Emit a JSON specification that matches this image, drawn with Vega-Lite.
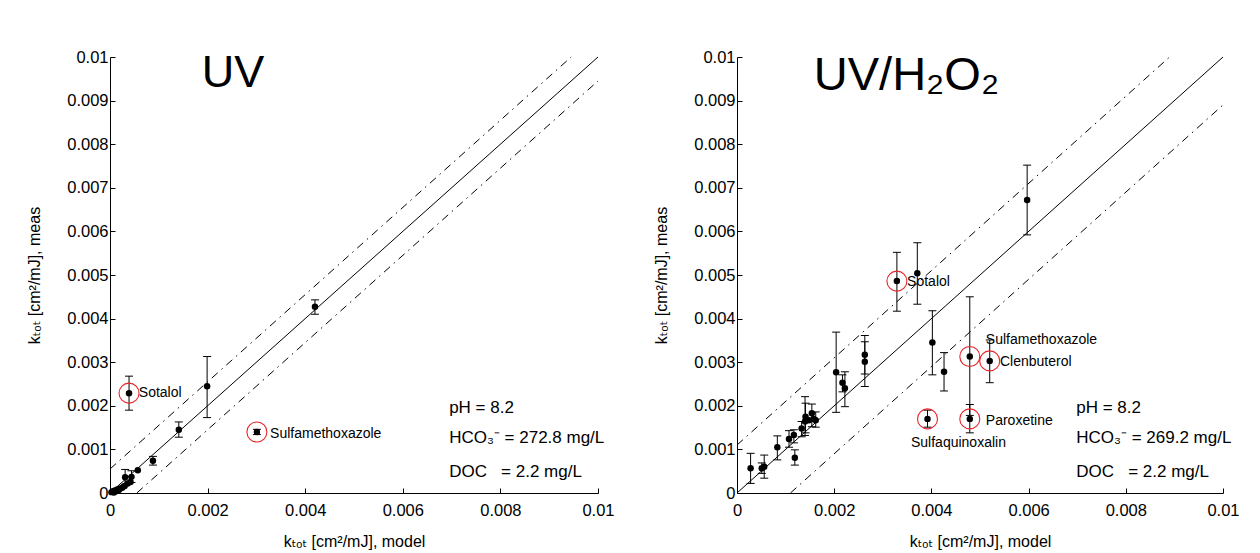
{
  "$schema": "https://vega.github.io/schema/vega-lite/v6.json",
  "padding": {"left": 26, "top": 49, "right": 5, "bottom": 5},
  "background": "white",
  "config": {
    "view": {"stroke": null},
    "font": "Liberation Sans",
    "axis": {
      "grid": false,
      "domainColor": "#000",
      "domainWidth": 1,
      "tickColor": "#000",
      "tickSize": -5,
      "labelFontSize": 16.5,
      "labelColor": "#000",
      "labelFont": "Liberation Sans",
      "titleFont": "Liberation Sans, DejaVu Sans",
      "titleFontSize": 16,
      "titleFontWeight": "normal",
      "titleColor": "#000",
      "labelFlush": false,
      "labelOverlap": false
    },
    "axisX": {"labelPadding": 14, "titlePadding": 15},
    "axisY": {"labelPadding": 7, "titlePadding": 24}
  },
  "datasets": {
    "uv": [
      {"x": 0.00039, "y": 0.00229, "lo": 0.0019, "hi": 0.00268, "hl": true},
      {"x": 0.00199, "y": 0.00245, "lo": 0.00173, "hi": 0.00313, "hl": false},
      {"x": 0.00141, "y": 0.00145, "lo": 0.00128, "hi": 0.00163, "hl": false},
      {"x": 0.00301, "y": 0.0014, "lo": 0.00134, "hi": 0.00146, "hl": true},
      {"x": 0.0042, "y": 0.00427, "lo": 0.0041, "hi": 0.00443, "hl": false},
      {"x": 0.00088, "y": 0.00074, "lo": 0.00064, "hi": 0.00084, "hl": false},
      {"x": 0.00057, "y": 0.00052, "lo": null, "hi": null, "hl": false},
      {"x": 0.00044, "y": 0.00037, "lo": 0.00024, "hi": 0.00051, "hl": false},
      {"x": 0.00031, "y": 0.00036, "lo": 0.0002, "hi": 0.00054, "hl": false},
      {"x": 0.00042, "y": 0.00025, "lo": null, "hi": null, "hl": false},
      {"x": 0.00036, "y": 0.00022, "lo": null, "hi": null, "hl": false},
      {"x": 0.0003, "y": 0.00016, "lo": null, "hi": null, "hl": false},
      {"x": 0.00025, "y": 0.00012, "lo": null, "hi": null, "hl": false},
      {"x": 0.0002, "y": 0.0001, "lo": null, "hi": null, "hl": false},
      {"x": 0.00015, "y": 0.00008, "lo": null, "hi": null, "hl": false},
      {"x": 0.0001, "y": 0.00006, "lo": null, "hi": null, "hl": false},
      {"x": 0.00006, "y": 0.00004, "lo": null, "hi": null, "hl": false},
      {"x": 0.00003, "y": 0.00002, "lo": null, "hi": null, "hl": false},
      {"x": 0.00012, "y": 0.00004, "lo": null, "hi": null, "hl": false},
      {"x": 0.00008, "y": 0.00001, "lo": null, "hi": null, "hl": false},
      {"x": 0.00018, "y": 0.00007, "lo": null, "hi": null, "hl": false}
    ],
    "h2": [
      {"x": 0.00028, "y": 0.00057, "lo": 0.00022, "hi": 0.00091, "hl": false},
      {"x": 0.00051, "y": 0.00057, "lo": 0.00045, "hi": 0.00069, "hl": false},
      {"x": 0.00056, "y": 0.0006, "lo": 0.00034, "hi": 0.00087, "hl": false},
      {"x": 0.00083, "y": 0.00105, "lo": 0.00076, "hi": 0.00131, "hl": false},
      {"x": 0.00107, "y": 0.00124, "lo": 0.00105, "hi": 0.00143, "hl": false},
      {"x": 0.00117, "y": 0.00133, "lo": 0.00115, "hi": 0.00145, "hl": false},
      {"x": 0.00119, "y": 0.00081, "lo": 0.00064, "hi": 0.00099, "hl": false},
      {"x": 0.00133, "y": 0.00148, "lo": 0.00129, "hi": 0.00164, "hl": false},
      {"x": 0.0014, "y": 0.00164, "lo": 0.00132, "hi": 0.00221, "hl": false},
      {"x": 0.00141, "y": 0.00175, "lo": 0.00138, "hi": 0.00206, "hl": false},
      {"x": 0.00148, "y": 0.00167, "lo": null, "hi": null, "hl": false},
      {"x": 0.00154, "y": 0.00183, "lo": 0.00152, "hi": 0.00204, "hl": false},
      {"x": 0.00158, "y": 0.0017, "lo": null, "hi": null, "hl": false},
      {"x": 0.00162, "y": 0.00167, "lo": 0.00151, "hi": 0.00186, "hl": false},
      {"x": 0.00204, "y": 0.00277, "lo": 0.00185, "hi": 0.00369, "hl": false},
      {"x": 0.00217, "y": 0.00253, "lo": 0.00232, "hi": 0.00271, "hl": false},
      {"x": 0.00222, "y": 0.0024, "lo": 0.00198, "hi": 0.00278, "hl": false},
      {"x": 0.00263, "y": 0.00317, "lo": 0.00273, "hi": 0.00361, "hl": false},
      {"x": 0.00263, "y": 0.00301, "lo": 0.00244, "hi": 0.00347, "hl": false},
      {"x": 0.00329, "y": 0.00486, "lo": 0.00417, "hi": 0.00552, "hl": true},
      {"x": 0.00371, "y": 0.00504, "lo": 0.00433, "hi": 0.00574, "hl": false},
      {"x": 0.00402, "y": 0.00345, "lo": 0.00271, "hi": 0.00418, "hl": false},
      {"x": 0.00426, "y": 0.00278, "lo": 0.00234, "hi": 0.00322, "hl": false},
      {"x": 0.00479, "y": 0.00313, "lo": 0.00178, "hi": 0.0045, "hl": true},
      {"x": 0.00479, "y": 0.0017, "lo": 0.00138, "hi": 0.00203, "hl": true},
      {"x": 0.0052, "y": 0.00303, "lo": 0.00253, "hi": 0.00351, "hl": true},
      {"x": 0.00392, "y": 0.0017, "lo": 0.00151, "hi": 0.0019, "hl": true},
      {"x": 0.00597, "y": 0.00672, "lo": 0.00592, "hi": 0.00752, "hl": false}
    ],
    "refuv": [
      {"g": "s", "x": 0, "y": 0},
      {"g": "s", "x": 0.01, "y": 0.01},
      {"g": "u", "x": 0, "y": 0.00055},
      {"g": "u", "x": 0.00945, "y": 0.01},
      {"g": "l", "x": 0.00055, "y": 0},
      {"g": "l", "x": 0.01, "y": 0.00945}
    ],
    "refh2": [
      {"g": "s", "x": 0, "y": 0},
      {"g": "s", "x": 0.01, "y": 0.01},
      {"g": "u", "x": 0, "y": 0.0011},
      {"g": "u", "x": 0.0089, "y": 0.01},
      {"g": "l", "x": 0.0011, "y": 0},
      {"g": "l", "x": 0.01, "y": 0.0089}
    ],
    "lab": [
      {"p": "uv", "k": "name", "x": 0.00059, "y": 0.00229, "t": "Sotalol"},
      {"p": "uv", "k": "name", "x": 0.00328, "y": 0.00135, "t": "Sulfamethoxazole"},
      {"p": "uv", "k": "ann", "x": 0.00695, "y": 0.00195, "t": "pH = 8.2"},
      {"p": "uv", "k": "ann", "x": 0.00695, "y": 0.00126, "t": "HCO₃⁻ = 272.8 mg/L"},
      {"p": "uv", "k": "ann", "x": 0.00695, "y": 0.00048, "t": "DOC\u00a0\u00a0\u00a0= 2.2 mg/L"},
      {"p": "uv", "k": "title", "x": 0.00252, "y": 0.00932, "t": "UV"},
      {"p": "h2", "k": "name", "x": 0.0035, "y": 0.00484, "t": "Sotalol"},
      {"p": "h2", "k": "name", "x": 0.00512, "y": 0.00351, "t": "Sulfamethoxazole"},
      {"p": "h2", "k": "name", "x": 0.00541, "y": 0.003, "t": "Clenbuterol"},
      {"p": "h2", "k": "name", "x": 0.00512, "y": 0.00165, "t": "Paroxetine"},
      {"p": "h2", "k": "name", "x": 0.00358, "y": 0.00115, "t": "Sulfaquinoxalin"},
      {"p": "h2", "k": "ann", "x": 0.00698, "y": 0.00195, "t": "pH = 8.2"},
      {"p": "h2", "k": "ann", "x": 0.00698, "y": 0.00126, "t": "HCO₃⁻ = 269.2 mg/L"},
      {"p": "h2", "k": "ann", "x": 0.00698, "y": 0.00048, "t": "DOC\u00a0\u00a0\u00a0= 2.2 mg/L"},
      {"p": "h2", "k": "title", "x": 0.00158, "y": 0.00924, "t": "UV/H₂O₂"}
    ]
  },
  "hconcat": [
    {
      "width": 488,
      "height": 436,
      "encoding": {
        "x": {"field": "x", "type": "quantitative", "scale": {"domain": [0, 0.01], "nice": false, "zero": false},
              "axis": {"values": [0, 0.002, 0.004, 0.006, 0.008, 0.01], "format": "~g", "title": "kₜₒₜ [cm²/mJ], model"}},
        "y": {"field": "y", "type": "quantitative", "scale": {"domain": [0, 0.01], "nice": false, "zero": false},
              "axis": {"values": [0, 0.001, 0.002, 0.003, 0.004, 0.005, 0.006, 0.007, 0.008, 0.009, 0.01], "format": "~g", "title": "kₜₒₜ [cm²/mJ], meas"}}
      },
      "layer": [
        {
          "data": {"name": "refuv"},
          "transform": [{"filter": "datum.g == 's'"}],
          "mark": {"type": "line", "color": "#000", "strokeWidth": 1},
          "encoding": {}
        },
        {
          "data": {"name": "refuv"},
          "transform": [{"filter": "datum.g != 's'"}],
          "mark": {"type": "line", "color": "#000", "strokeWidth": 1, "strokeDash": [8, 5, 1.5, 5]},
          "encoding": {"detail": {"field": "g"}}
        },
        {
          "data": {"name": "uv"},
          "transform": [{"filter": "datum.lo != null"}],
          "mark": {"type": "rule", "color": "#000", "strokeWidth": 1},
          "encoding": {
            "y": {"field": "lo", "type": "quantitative", "title": "kₜₒₜ [cm²/mJ], meas"},
            "y2": {"field": "hi"}
          }
        },
        {
          "data": {"name": "uv"},
          "transform": [{"filter": "datum.lo != null"}],
          "mark": {"type": "tick", "orient": "horizontal", "size": 8, "thickness": 1, "color": "#000", "opacity": 1},
          "encoding": {
            "y": {"field": "lo", "type": "quantitative", "title": "kₜₒₜ [cm²/mJ], meas"}
          }
        },
        {
          "data": {"name": "uv"},
          "transform": [{"filter": "datum.lo != null"}],
          "mark": {"type": "tick", "orient": "horizontal", "size": 8, "thickness": 1, "color": "#000", "opacity": 1},
          "encoding": {
            "y": {"field": "hi", "type": "quantitative", "title": "kₜₒₜ [cm²/mJ], meas"}
          }
        },
        {
          "data": {"name": "uv"},
          "mark": {"type": "circle", "size": 42, "color": "#000", "opacity": 1},
          "encoding": {}
        },
        {
          "data": {"name": "uv"},
          "transform": [{"filter": "datum.hl"}],
          "mark": {"type": "point", "shape": "circle", "filled": false, "size": 400, "color": "#e8242a", "strokeWidth": 1.1, "opacity": 1},
          "encoding": {}
        },
        {
          "data": {"name": "lab"},
          "transform": [{"filter": "datum.p == 'uv' && datum.k == 'name'"}],
          "mark": {"type": "text", "align": "left", "baseline": "middle", "fontSize": 14, "font": "Liberation Sans", "color": "#000"},
          "encoding": {"text": {"field": "t"}}
        },
        {
          "data": {"name": "lab"},
          "transform": [{"filter": "datum.p == 'uv' && datum.k == 'ann'"}],
          "mark": {"type": "text", "align": "left", "baseline": "middle", "fontSize": 17, "font": "Liberation Sans", "color": "#000"},
          "encoding": {"text": {"field": "t"}}
        },
        {
          "data": {"name": "lab"},
          "transform": [{"filter": "datum.p == 'uv' && datum.k == 'title'"}],
          "mark": {"type": "text", "align": "center", "baseline": "alphabetic", "fontSize": 45, "font": "Liberation Sans", "color": "#000"},
          "encoding": {"text": {"field": "t"}}
        }
      ]
    },
    {
      "width": 486,
      "height": 436,
      "encoding": {
        "x": {"field": "x", "type": "quantitative", "scale": {"domain": [0, 0.01], "nice": false, "zero": false},
              "axis": {"values": [0, 0.002, 0.004, 0.006, 0.008, 0.01], "format": "~g", "title": "kₜₒₜ [cm²/mJ], model"}},
        "y": {"field": "y", "type": "quantitative", "scale": {"domain": [0, 0.01], "nice": false, "zero": false},
              "axis": {"values": [0, 0.001, 0.002, 0.003, 0.004, 0.005, 0.006, 0.007, 0.008, 0.009, 0.01], "format": "~g", "title": "kₜₒₜ [cm²/mJ], meas"}}
      },
      "layer": [
        {
          "data": {"name": "refh2"},
          "transform": [{"filter": "datum.g == 's'"}],
          "mark": {"type": "line", "color": "#000", "strokeWidth": 1},
          "encoding": {}
        },
        {
          "data": {"name": "refh2"},
          "transform": [{"filter": "datum.g != 's'"}],
          "mark": {"type": "line", "color": "#000", "strokeWidth": 1, "strokeDash": [8, 5, 1.5, 5]},
          "encoding": {"detail": {"field": "g"}}
        },
        {
          "data": {"name": "h2"},
          "transform": [{"filter": "datum.lo != null"}],
          "mark": {"type": "rule", "color": "#000", "strokeWidth": 1},
          "encoding": {
            "y": {"field": "lo", "type": "quantitative", "title": "kₜₒₜ [cm²/mJ], meas"},
            "y2": {"field": "hi"}
          }
        },
        {
          "data": {"name": "h2"},
          "transform": [{"filter": "datum.lo != null"}],
          "mark": {"type": "tick", "orient": "horizontal", "size": 8, "thickness": 1, "color": "#000", "opacity": 1},
          "encoding": {
            "y": {"field": "lo", "type": "quantitative", "title": "kₜₒₜ [cm²/mJ], meas"}
          }
        },
        {
          "data": {"name": "h2"},
          "transform": [{"filter": "datum.lo != null"}],
          "mark": {"type": "tick", "orient": "horizontal", "size": 8, "thickness": 1, "color": "#000", "opacity": 1},
          "encoding": {
            "y": {"field": "hi", "type": "quantitative", "title": "kₜₒₜ [cm²/mJ], meas"}
          }
        },
        {
          "data": {"name": "h2"},
          "mark": {"type": "circle", "size": 42, "color": "#000", "opacity": 1},
          "encoding": {}
        },
        {
          "data": {"name": "h2"},
          "transform": [{"filter": "datum.hl"}],
          "mark": {"type": "point", "shape": "circle", "filled": false, "size": 400, "color": "#e8242a", "strokeWidth": 1.1, "opacity": 1},
          "encoding": {}
        },
        {
          "data": {"name": "lab"},
          "transform": [{"filter": "datum.p == 'h2' && datum.k == 'name'"}],
          "mark": {"type": "text", "align": "left", "baseline": "middle", "fontSize": 14, "font": "Liberation Sans", "color": "#000"},
          "encoding": {"text": {"field": "t"}}
        },
        {
          "data": {"name": "lab"},
          "transform": [{"filter": "datum.p == 'h2' && datum.k == 'ann'"}],
          "mark": {"type": "text", "align": "left", "baseline": "middle", "fontSize": 17, "font": "Liberation Sans", "color": "#000"},
          "encoding": {"text": {"field": "t"}}
        },
        {
          "data": {"name": "lab"},
          "transform": [{"filter": "datum.p == 'h2' && datum.k == 'title'"}],
          "mark": {"type": "text", "align": "left", "baseline": "alphabetic", "fontSize": 47, "font": "Liberation Sans", "color": "#000"},
          "encoding": {"text": {"field": "t"}}
        }
      ]
    }
  ],
  "spacing": 38
}
